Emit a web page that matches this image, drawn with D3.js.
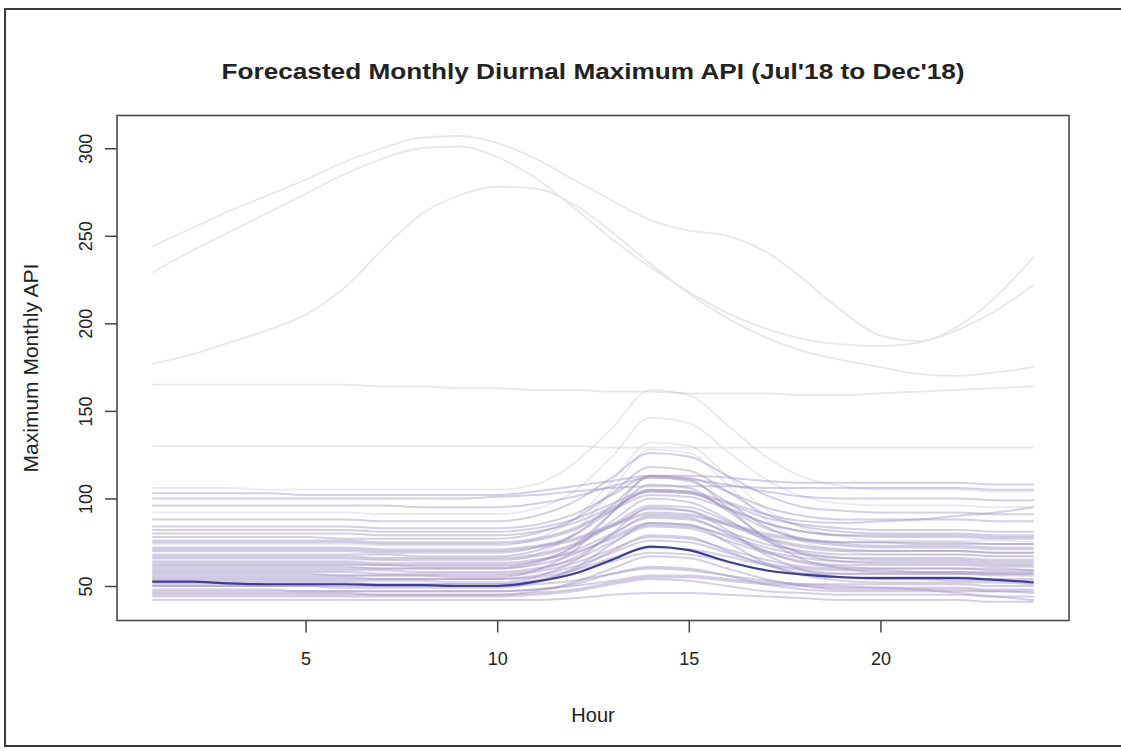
<!DOCTYPE html>
<html>
<head>
<meta charset="utf-8">
<script src="https://cdn.jsdelivr.net/npm/d3@7"></script>
<style>
  html, body { margin: 0; padding: 0; background: #ffffff; }
  svg { display: block; }
  text { font-family: "Liberation Sans", Arial, Helvetica, sans-serif; fill: #222; }
</style>
</head>
<body>
<svg id="chart" width="1121" height="751"></svg>
<script>
// ---------------- DATA ----------------
const hours = [1,2,3,4,5,6,7,8,9,10,11,12,13,14,15,16,17,18,19,20,21,22,23,24];
const xTicks = [5, 10, 15, 20];
const yTicks = [50, 100, 150, 200, 250, 300];

const chartTitle = "Forecasted Monthly Diurnal Maximum API (Jul'18 to Dec'18)";
const xLabel = "Hour";
const yLabel = "Maximum Monthly API";

// faint high-level curves
const high1 = [244,254,264,273,282,292,300,306,307,303,294,282,270,259,253,250,241,225,207,193,190,198,215,238];
const high2 = [229,241,252,263,274,285,294,300,301,295,283,266,248,232,218,206,197,191,188,187,189,196,207,222];
const high3 = [177,182,189,196,205,220,242,262,273,278,277,268,252,234,217,203,192,184,179,175,171,170,172,175];
const high4 = [165,165,165,165,165,165,164,164,163,163,162,162,161,161,160,160,160,159,159,160,161,162,163,164];
const high5 = [130,130,130,130,130,130,130,130,130,130,130,130,129,129,129,129,129,129,129,129,129,129,129,129];

// faint curves with the largest afternoon peaks
const peak1 = [106,106,106,105,105,105,105,105,105,105,108,120,140,162,159,142,124,112,107,105,105,105,104,104];
const peak2 = [92,92,92,92,92,92,91,91,91,91,94,104,124,146,143,127,111,101,97,96,96,96,95,95];
const peak3 = [74,74,74,74,74,74,73,73,73,73,77,88,110,132,130,113,94,83,78,76,76,76,76,75];
const peak4 = [65,65,65,65,65,65,65,64,64,64,68,80,105,128,126,108,88,75,70,68,68,68,67,67];

// main band of monthly curves
const band01 = [42,42,42,42,42,42,42,42,42,42,42,43,45,46,46,45,44,43,42,42,42,42,41,41];
const band02 = [44,44,44,44,44,44,44,44,44,44,45,47,51,54,53,50,47,46,45,45,45,45,44,44];
const band03 = [46,46,46,46,46,46,45,45,45,45,47,52,60,67,66,60,54,50,48,48,48,48,47,47];
const band04 = [48,48,48,48,47,47,47,47,47,47,48,51,57,61,60,56,51,48,47,47,47,47,47,46];
const band05 = [50,50,50,50,50,49,49,49,49,49,52,60,74,86,85,75,63,56,53,52,52,52,52,51];
const band06 = [52,52,52,52,52,52,51,51,51,51,53,59,70,79,78,70,62,57,55,55,55,55,54,54];
const band07 = [53,53,53,53,53,53,53,53,52,52,55,64,80,95,93,82,68,59,55,54,54,53,53,53];
const band08 = [55,55,55,55,55,55,54,54,54,54,55,59,66,72,71,67,62,59,57,57,57,57,56,56];
const band09 = [56,56,56,56,56,56,56,56,55,55,59,70,92,113,111,95,77,65,60,58,58,58,57,57];
const band10 = [58,58,58,58,58,58,57,57,57,57,59,66,79,90,89,80,70,63,61,60,60,60,59,59];
const band11 = [59,59,59,59,59,59,59,58,58,58,60,65,75,84,83,76,69,64,62,62,62,62,61,61];
const band12 = [61,61,61,61,61,61,60,60,60,60,63,73,92,108,106,93,78,68,64,63,63,63,62,62];
const band13 = [62,62,62,62,62,62,62,61,61,61,64,72,87,100,98,88,76,69,66,65,65,65,64,64];
const band14 = [64,64,64,64,64,64,63,63,63,63,65,69,77,85,84,79,72,68,66,66,66,66,65,65];
const band16 = [67,67,67,67,67,67,66,66,66,66,68,74,85,96,95,87,78,73,71,70,70,70,69,69];
const band17 = [68,68,68,68,68,68,68,67,67,67,70,79,96,112,110,98,84,76,73,72,72,72,71,71];
const band18 = [70,70,70,70,70,70,69,69,69,69,72,79,93,105,104,94,83,77,74,73,73,73,72,72];
const band19 = [72,72,72,72,72,72,71,71,71,71,73,77,85,92,91,86,80,77,75,75,75,75,74,74];
const band21 = [76,76,76,76,76,76,75,75,75,75,77,83,94,104,103,95,86,81,79,78,78,78,77,77];
const band22 = [78,78,78,78,78,77,77,77,77,77,80,88,103,118,116,104,91,84,81,80,80,80,79,79];
const band23 = [80,80,80,80,80,80,79,79,79,79,81,86,95,104,103,97,89,85,83,82,82,82,81,81];
const band24 = [84,84,84,84,84,84,83,83,83,83,85,91,102,113,112,104,95,90,88,88,88,88,87,87];
const band25 = [88,88,88,88,88,88,87,87,87,87,90,98,112,126,124,113,102,95,93,92,92,92,91,91];
const band27 = [96,96,96,96,96,96,96,95,95,95,97,101,107,112,111,108,104,101,100,100,100,100,99,99];
const band28 = [100,100,100,100,100,100,100,100,100,101,102,104,106,107,107,107,106,106,106,106,106,106,105,105];
const band29 = [103,103,103,103,102,102,102,102,102,102,104,107,110,113,113,112,110,109,109,109,109,109,108,108];
const band31 = [82,82,82,82,82,82,81,81,81,81,83,88,97,105,104,98,91,87,86,87,88,90,92,95];
const band32 = [50,50,50,50,50,50,50,50,50,50,51,53,57,60,59,56,53,51,50,49,48,46,44,42];
const band33 = [57,57,57,57,57,56,56,56,56,56,58,63,71,78,77,71,65,61,60,60,60,60,60,59];
const band34 = [63,63,63,63,63,63,62,62,62,62,64,70,80,89,88,81,74,70,68,68,68,68,67,67];
const band35 = [71,71,71,71,71,71,70,70,70,70,72,76,84,91,90,85,79,76,75,75,74,74,74,74];
const band36 = [45,45,45,45,45,45,45,45,45,45,46,48,52,55,55,53,51,50,49,49,49,49,48,48];
const band37 = [51,51,51,51,51,51,51,51,51,51,53,57,64,69,68,64,59,57,57,57,57,57,57,57];
const band38 = [47,47,47,47,47,47,47,47,47,47,48,50,53,56,56,54,52,51,51,51,51,51,50,50];
const band39 = [54,54,54,54,54,54,54,54,54,54,56,61,69,76,75,69,63,60,59,59,58,58,58,58];
const band40 = [60,60,60,60,60,60,60,60,60,60,62,68,78,86,85,78,70,66,64,64,64,64,63,63];
const band41 = [66,66,66,66,66,66,65,65,65,65,67,73,84,94,93,85,77,72,70,70,70,70,69,69];
const band42 = [75,75,75,75,75,75,74,74,74,74,76,82,93,102,101,94,86,81,79,79,79,79,78,78];

// dark overall curve
const meanCurve = [52.5,52.5,51.5,51,51,51,50.5,50.5,50,50,52.5,57,65,72.5,70.5,64,59,56.5,55,54.5,54.5,54.5,53.5,52];

const highSeries = [high1, high2, high3, high4, high5];
const peakSeries = [peak1, peak2, peak3, peak4];
const bandSeries = [band01,band02,band03,band04,band05,band06,band07,band08,band09,band10,
                    band11,band12,band13,band14,band16,band17,band18,band19,
                    band21,band22,band23,band24,band25,band27,band28,band29,
                    band31,band32,band33,band34,band35,band36,band37,band38,band39,band40,
                    band41,band42];

// ---------------- LAYOUT ----------------
const svg = d3.select("#chart");
const W = 1121, H = 751;
const plot = { left: 117, right: 1069, top: 115.5, bottom: 620.5 };

const x = d3.scaleLinear().domain([0.08, 24.92]).range([plot.left, plot.right]);
const y = d3.scaleLinear().domain([30.3, 318.7]).range([plot.bottom, plot.top]);

// outer frame
svg.append("rect")
  .attr("x", 5).attr("y", 9).attr("width", W + 20).attr("height", 737)
  .attr("fill", "#ffffff").attr("stroke", "#3a3a3a").attr("stroke-width", 2);

const line = d3.line()
  .x((d, i) => x(hours[i]))
  .y(d => y(d))
  .curve(d3.curveMonotoneX);

const g = svg.append("g");

g.selectAll("path.high").data(highSeries).enter().append("path")
  .attr("class", "high")
  .attr("d", line)
  .attr("fill", "none")
  .attr("stroke", "#e8e7ee")
  .attr("stroke-width", 1.8);

g.selectAll("path.peak").data(peakSeries).enter().append("path")
  .attr("class", "peak")
  .attr("d", line)
  .attr("fill", "none")
  .attr("stroke", "#9a8cc2")
  .attr("stroke-opacity", 0.2)
  .attr("stroke-width", 1.8);

g.selectAll("path.band").data(bandSeries).enter().append("path")
  .attr("class", "band")
  .attr("d", line)
  .attr("fill", "none")
  .attr("stroke", "#9a8cc2")
  .attr("stroke-opacity", 0.42)
  .attr("stroke-width", 2);

g.append("path")
  .datum(meanCurve)
  .attr("d", line)
  .attr("fill", "none")
  .attr("stroke", "#3c3c9c")
  .attr("stroke-width", 2.2);

// plot box
svg.append("rect")
  .attr("x", plot.left).attr("y", plot.top)
  .attr("width", plot.right - plot.left).attr("height", plot.bottom - plot.top)
  .attr("fill", "none").attr("stroke", "#4a4a4a").attr("stroke-width", 1.6);

// x axis
const xAxis = d3.axisBottom(x).tickValues(xTicks).tickSize(12).tickPadding(20).tickFormat(d3.format("d"));
const gx = svg.append("g").attr("transform", `translate(0,${plot.bottom})`).call(xAxis);
gx.select(".domain").remove();
gx.selectAll(".tick line").attr("stroke", "#444").attr("stroke-width", 1.5);
gx.selectAll(".tick text").attr("font-size", 18).attr("fill", "#222")
  .attr("font-family", "Liberation Sans, Arial, sans-serif");

// y axis
const yAxis = d3.axisLeft(y).tickValues(yTicks).tickSize(12).tickFormat(d3.format("d"));
const gy = svg.append("g").attr("transform", `translate(${plot.left},0)`).call(yAxis);
gy.select(".domain").remove();
gy.selectAll(".tick line").attr("stroke", "#444").attr("stroke-width", 1.5);
gy.selectAll(".tick text")
  .attr("font-size", 18).attr("fill", "#222")
  .attr("font-family", "Liberation Sans, Arial, sans-serif")
  .attr("text-anchor", "middle")
  .attr("x", null)
  .attr("transform", "translate(-31,0) rotate(-90)")
  .attr("dy", "0.35em");

// title
svg.append("text")
  .attr("x", (plot.left + plot.right) / 2).attr("y", 79)
  .attr("text-anchor", "middle")
  .attr("font-size", 22).attr("font-weight", "bold").attr("fill", "#111")
  .attr("textLength", 743).attr("lengthAdjust", "spacingAndGlyphs")
  .text(chartTitle);

// x label
svg.append("text")
  .attr("x", (plot.left + plot.right) / 2).attr("y", 722)
  .attr("text-anchor", "middle")
  .attr("font-size", 20).attr("fill", "#222")
  .text(xLabel);

// y label
svg.append("text")
  .attr("transform", `translate(38,${(plot.top + plot.bottom) / 2}) rotate(-90)`)
  .attr("text-anchor", "middle")
  .attr("font-size", 21).attr("fill", "#222")
  .text(yLabel);
</script>
</body>
</html>
